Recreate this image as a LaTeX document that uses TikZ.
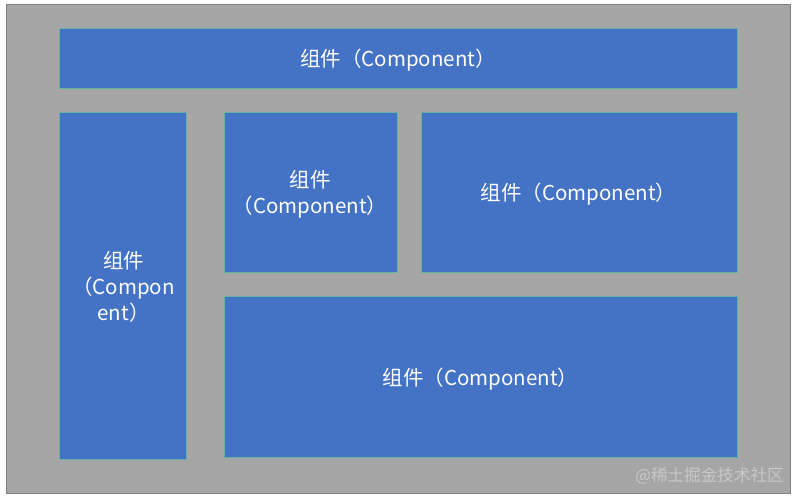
\documentclass[tikz,border=0pt]{standalone}
\usepackage{fontspec}
\newfontfamily\cjk{Noto Sans CJK SC}
\definecolor{bgray}{HTML}{A6A6A6}
\definecolor{bgborder}{HTML}{7F7F7F}
\definecolor{compblue}{HTML}{4472C4}
\definecolor{compedge}{HTML}{66B2A0}
\definecolor{wmark}{HTML}{C8C8C8}
\tikzset{
  comp/.style={fill=compblue, draw=compedge, line width=1pt},
  complabel/.style={text=white, font=\cjk\fontsize{20.5}{26}\selectfont, align=center, inner sep=0pt},
}
\begin{document}
\begin{tikzpicture}[x=1pt,y=-1pt]
\useasboundingbox (0,0) rectangle (800,503);
\fill[white] (0,0) rectangle (800,503);
\draw[fill=bgray, draw=bgborder, line width=1pt] (6,5) rectangle (790,493);
% components
\draw[comp] (59,29) rectangle (737,88);
\draw[comp] (59,112) rectangle (186,459);
\draw[comp] (224,112) rectangle (397,272);
\draw[comp] (421,112) rectangle (737,272);
\draw[comp] (224,296) rectangle (737,457);
\node[complabel] (top) at (398,60) {组件（Component）};
\node[complabel] (left) at (123.5,287) {组件\\（Compon\\ent）};
\node[complabel] (mid) at (310,194) {组件\\（Component）};
\node[complabel] (right) at (578.5,194) {组件（Component）};
\node[complabel] (bottom) at (480.5,379) {组件（Component）};
\node[text=wmark, font=\cjk\fontsize{16.6}{18}\selectfont, anchor=east, inner sep=0pt] (wm) at (784,476) {@稀土掘金技术社区};
\end{tikzpicture}
\end{document}
